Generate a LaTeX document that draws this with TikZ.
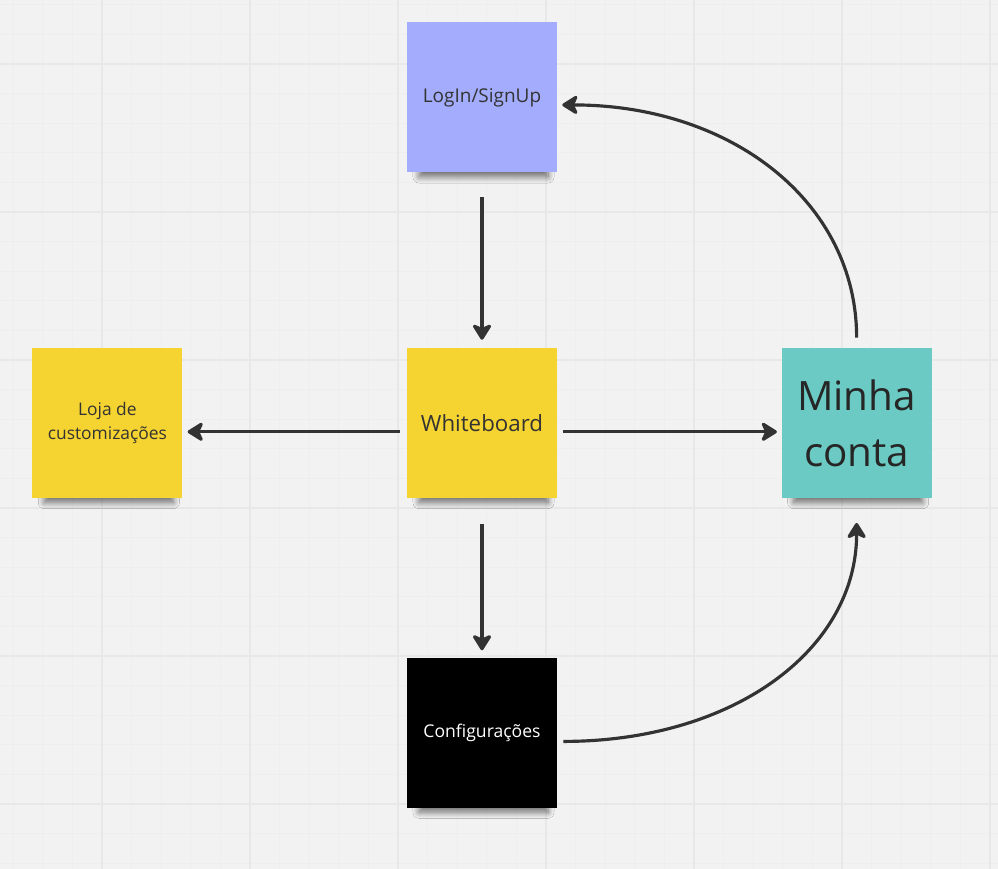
\documentclass[tikz,border=0pt]{standalone}
\usepackage{fontspec}
\setmainfont{Open Sans}
\usetikzlibrary{positioning}
\usetikzlibrary{arrows.meta}
\usetikzlibrary{shadows.blur}

\definecolor{boardbg}{HTML}{F2F2F2}
\definecolor{gridminor}{HTML}{EEEEEE}
\definecolor{gridmajor}{HTML}{E8E8E8}
\definecolor{notelilac}{HTML}{A4ADFD}
\definecolor{noteyellow}{HTML}{F5D330}
\definecolor{noteteal}{HTML}{6BCAC3}
\definecolor{notetext}{HTML}{333333}
\definecolor{arrowgray}{HTML}{333333}

\begin{document}
\begin{tikzpicture}[x=0.02cm,y=-0.02cm,
  sticky/.style={minimum width=3cm,minimum height=3cm,inner sep=2pt,align=center,
    text=notetext,font=\fontsize{10.8}{14}\selectfont,
    blur shadow={shadow xshift=1pt,shadow yshift=-10pt,shadow scale=0.86,
      shadow opacity=55,shadow blur steps=12,shadow blur radius=4pt}},
  flow/.style={draw=arrowgray,line width=1.8pt,
    -{Stealth[length=10.5pt,width=13pt,inset=3pt,round]}},
  minorgrid/.style={draw=gridminor,line width=0.5pt},
  majorgrid/.style={draw=gridmajor,line width=0.7pt}]

% board with grid
\fill[boardbg] (0,0) rectangle (998,869);
\useasboundingbox (0,0) rectangle (998,869);
\foreach \k in {-3,...,30} \draw[minorgrid] ({102+29.6*\k},0) -- ({102+29.6*\k},869);
\foreach \k in {-2,...,27} \draw[minorgrid] (0,{64+29.6*\k}) -- (998,{64+29.6*\k});
\foreach \k in {0,...,6} \draw[majorgrid] ({102+148*\k},0) -- ({102+148*\k},869);
\foreach \k in {0,...,5} \draw[majorgrid] (0,{64+148*\k}) -- (998,{64+148*\k});

% sticky notes
\node[sticky,fill=noteyellow,font=\fontsize{12.7}{15}\selectfont](wb) at (482,423){Whiteboard};
\node[sticky,fill=notelilac,above=3.5cm of wb](login){LogIn/SignUp};
\node[sticky,fill=noteyellow,left=4.48cm of wb,font=\fontsize{9.9}{13.5}\selectfont](loja){Loja de\\customizações};
\node[sticky,fill=noteteal,right=4.48cm of wb,text=black!85,font=\fontsize{23}{32}\selectfont](minha){Minha\\conta};
\node[sticky,fill=black,text=white,below=3.18cm of wb,font=\fontsize{10}{13}\selectfont](config){Configurações};

% connectors
\draw[flow,shorten <=14pt,shorten >=4.5pt] (login) -- (wb);
\draw[flow,shorten <=14.5pt,shorten >=4pt] (wb) -- (config);
\draw[flow,shorten <=4pt,shorten >=2.8pt] ([yshift=-5pt]wb.west) -- ([yshift=-5pt]loja.east);
\draw[flow,shorten <=3.4pt,shorten >=2.5pt] ([yshift=-5pt]wb.east) -- ([yshift=-5pt]minha.west);
\draw[flow] ([xshift=3.4pt,yshift=-5pt]config.east) .. controls +(170,0) and +(0,127) .. ([yshift=-14pt]minha.south);
\draw[flow] ([yshift=5.7pt]minha.north) .. controls +(0,-135) and +(170,0) .. ([xshift=2.8pt,yshift=-4.3pt]login.east);
\end{tikzpicture}
\end{document}
